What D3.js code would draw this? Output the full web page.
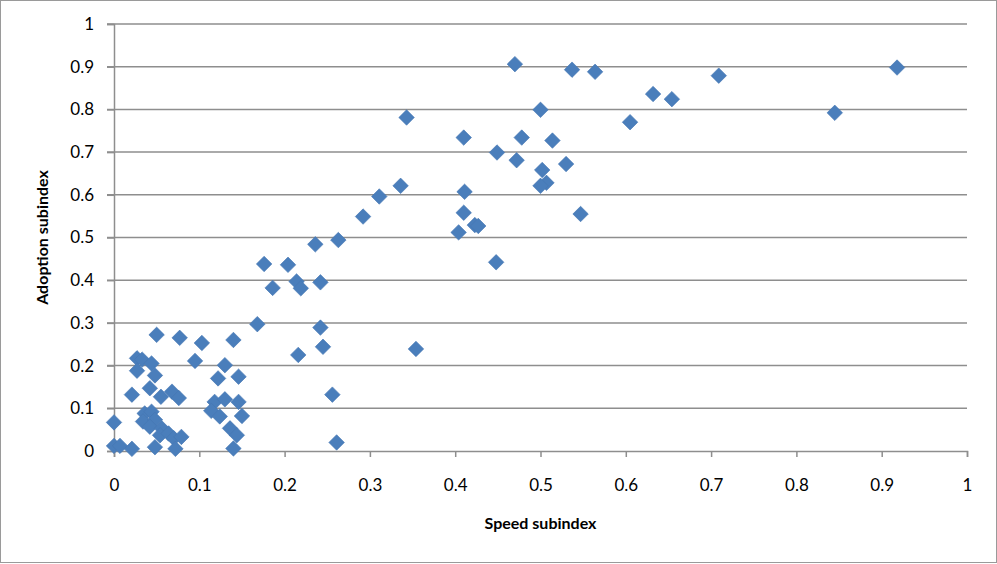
<!DOCTYPE html>
<html>
<head>
<meta charset="utf-8">
<script src="https://cdn.jsdelivr.net/npm/d3@7"></script>
<style>
  html, body { margin: 0; padding: 0; background: #fff; }
  svg { display: block; }
</style>
</head>
<body>
<svg id="chart" width="997" height="564"></svg>
<script>
const speed = [
  0.918,0.845,0.709,0.654,0.632,0.605,0.564,0.537,0.470,0.500,
  0.478,0.514,0.410,0.343,0.449,0.472,0.530,0.502,0.507,0.500,
  0.411,0.336,0.311,0.547,0.410,0.423,0.427,0.404,0.448,0.292,
  0.263,0.236,0.176,0.204,0.214,0.219,0.242,0.186,0.354,0.242,
  0.245,0.216,0.256,0.261,0.168,
  0.050,0.077,0.103,0.140,0.027,0.033,0.044,0.095,0.130,
  0.027,0.048,0.122,0.146,0.042,0.021,0.055,0.068,0.076,
  0.118,0.130,0.146,0.114,0.124,0.150,0.136,0.144,0.140,
  0.036,0.044,0.034,0.048,0.042,0.056,0.054,0.064,0.070,0.079,
  0.048,0.072,0.000,0.000,0.007,0.021
];
const adoption = [
  0.898,0.792,0.879,0.824,0.836,0.770,0.888,0.893,0.906,0.799,
  0.734,0.727,0.734,0.781,0.699,0.681,0.672,0.658,0.628,0.621,
  0.607,0.621,0.596,0.555,0.558,0.529,0.527,0.512,0.442,0.549,
  0.494,0.484,0.438,0.436,0.397,0.381,0.395,0.382,0.239,0.289,
  0.244,0.225,0.132,0.020,0.297,
  0.272,0.265,0.253,0.260,0.217,0.214,0.205,0.211,0.201,
  0.188,0.177,0.170,0.174,0.147,0.132,0.127,0.139,0.124,
  0.115,0.121,0.115,0.094,0.081,0.082,0.053,0.037,0.006,
  0.088,0.092,0.069,0.073,0.057,0.053,0.037,0.041,0.030,0.033,
  0.009,0.005,0.067,0.012,0.012,0.005
];
const tickValues = [0,0.1,0.2,0.3,0.4,0.5,0.6,0.7,0.8,0.9,1];
const xTitle = "Speed subindex";
const yTitle = "Adoption subindex";

(function(){
const svg = d3.select("#chart");
const W = 997, H = 564;
const mL = 114, mR = 967, mT = 24, mB = 451;
const x = d3.scaleLinear().domain([0,1]).range([mL,mR]);
const y = d3.scaleLinear().domain([0,1]).range([mB,mT]);
const font = "Lato, 'Open Sans', 'Liberation Sans', sans-serif";
const grid = "#8e8e8e";

svg.append("rect").attr("x",0.5).attr("y",0.5).attr("width",W-1).attr("height",H-2)
  .attr("fill","#fff").attr("stroke","#9a9a9a").attr("stroke-width",1);

svg.append("g").selectAll("line").data(tickValues.filter(d=>d>0)).join("line")
  .attr("x1",mL-7).attr("x2",mR).attr("y1",d=>y(d)).attr("y2",d=>y(d))
  .attr("stroke",grid).attr("stroke-width",1.5);

const fmt = d=>String(+d.toFixed(1));
const yAxis = svg.append("g").attr("transform",`translate(${mL},0)`)
  .call(d3.axisLeft(y).tickValues(tickValues).tickSize(7).tickPadding(13).tickFormat(fmt));
yAxis.select(".domain").attr("stroke",grid).attr("stroke-width",1.5);
yAxis.selectAll(".tick line").attr("stroke",grid).attr("stroke-width",1.5);
yAxis.selectAll("text").attr("font-family",font).attr("font-size",17).attr("fill","#000");

const xAxis = svg.append("g").attr("transform",`translate(0,${mB})`)
  .call(d3.axisBottom(x).tickValues(tickValues).tickSize(6).tickPadding(22).tickFormat(fmt));
xAxis.select(".domain").attr("stroke",grid).attr("stroke-width",1.5);
xAxis.selectAll(".tick line").attr("stroke",grid).attr("stroke-width",1.5);
xAxis.selectAll("text").attr("font-family",font).attr("font-size",17).attr("fill","#000");

const pts = speed.map((s,i)=>({s, a: adoption[i]}));
const diamond = d3.symbol().type(d3.symbolSquare).size(120);
svg.append("g").selectAll("path").data(pts).join("path")
  .attr("d", diamond)
  .attr("transform", d=>`translate(${x(d.s)},${y(d.a)}) rotate(45)`)
  .attr("fill","#4a7ebb")
  .attr("stroke","#4577b3").attr("stroke-width",0.6);

svg.append("text").attr("x",(mL+mR)/2).attr("y",529)
  .attr("text-anchor","middle").attr("font-family",font).attr("font-weight","bold")
  .attr("font-size",16).text(xTitle);
svg.append("text").attr("transform",`translate(48,${(mT+mB)/2}) rotate(-90)`)
  .attr("text-anchor","middle").attr("font-family",font).attr("font-weight","bold")
  .attr("font-size",16).text(yTitle);
})();
</script>
</body>
</html>
